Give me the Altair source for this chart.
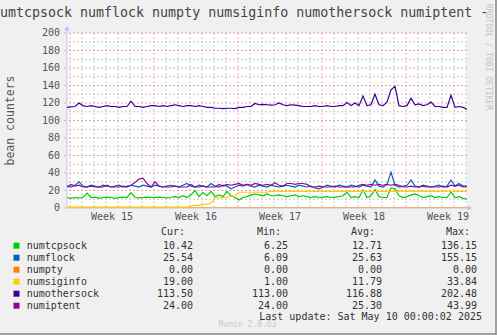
import altair as alt
import pandas as pd

MONO = "DejaVu Sans Mono"

# ---------------- data ----------------
series_names = ["numtcpsock", "numflock", "numpty", "numsiginfo", "numothersock", "numiptent"]
series_colors = ["#00CC00", "#0066B3", "#FF8000", "#FFCC00", "#330099", "#990099"]
cur_vals = ["10.42", "25.54", "0.00", "19.00", "113.50", "24.00"]
min_vals = ["6.25", "6.09", "0.00", "1.00", "113.00", "24.00"]
avg_vals = ["12.71", "25.63", "0.00", "11.79", "116.88", "25.30"]
max_vals = ["136.15", "155.15", "0.00", "33.84", "202.48", "43.99"]

# hours since Mon 7 Apr 2025 00:00 (8-hour samples)
hours = list(range(-6, 795, 8))

numtcpsock = [12, 11, 12, 11.5, 12, 17, 12, 12.5, 11, 12, 12.5, 12, 11, 12, 12.5, 12, 17.5, 12, 11.5, 12,
              12.5, 12, 12, 12.5, 12, 11.5, 12, 13, 12, 14, 12, 15, 20, 13, 18, 14, 19, 13, 15, 13,
              19, 14, 12, 9, 12, 13, 15, 16, 15, 14, 16, 14, 14, 15, 14, 13, 14, 15, 13, 14,
              13, 12, 13, 12, 12.5, 13, 12, 12.5, 13, 14, 18, 12, 13, 12, 20.5, 12, 14, 21, 13, 12,
              12, 23, 22, 14, 12, 13, 15, 16, 14, 12, 13, 14, 12, 13, 12, 12, 18, 12, 13, 11, 10]
numflock = [25, 24, 26, 30, 25, 24, 26, 25, 24, 26, 25, 24, 25, 26, 24, 25, 26, 25, 24, 26,
            25, 24, 26, 25, 24, 25, 26, 25, 24, 26, 28, 25, 24, 26, 25, 24, 28, 25, 24, 26,
            25, 22, 24, 26, 25, 27, 25, 24, 26, 25, 24, 26, 25, 24, 25, 26, 25, 24, 26, 25,
            24, 25, 23, 22, 24, 26, 25, 24, 26, 25, 24, 26, 25, 24, 26, 25, 24, 32, 25, 24,
            27, 41, 26, 24, 25, 26, 32, 25, 24, 26, 25, 24, 25, 26, 24, 25, 32, 25, 28, 25, 25.5]
numpty = [0] * 101
numsiginfo = [1] * 31 + [2.5, 3, 3, 4.5, 4.5, 5.5, 11, 12, 12, 12.5, 13.5, 14] + [18] * 8 + [19] * 50
numothersock = [115, 115.5, 116, 120, 117, 116, 117, 116, 115, 116, 117, 116, 116, 115, 116, 116, 122, 116, 116, 115,
                116, 117, 117, 116, 117, 116, 117, 118, 117, 116, 117, 117, 116, 117, 116, 115, 115, 114, 114, 113.5,
                114, 114, 113.5, 115, 115, 116, 116, 119.5, 118, 118.5, 118, 117.5, 118, 120, 118, 117, 118, 117.5, 117, 116,
                116, 116, 117, 116, 116, 117, 116, 116, 117, 117, 120.5, 117, 120, 117, 128, 117, 118, 130, 118, 117,
                121, 135, 139, 117, 116, 117, 125.5, 118, 119, 117, 118, 121, 116, 116, 115, 115, 129, 115, 116, 115, 113]
numiptent = [24, 27, 25, 26, 24, 24, 25, 24, 24, 24, 26, 24, 24, 24, 25, 24, 26, 29, 33, 34,
             28, 24, 30, 25, 24, 24, 24, 25, 24, 24, 24, 27, 24, 24, 25, 24, 24, 24, 27, 25,
             27, 26, 27, 28, 26, 27, 26, 28, 27, 26, 27, 26, 29, 26, 25, 28, 28, 27, 28, 28,
             27, 24, 24, 25, 24, 24, 24, 25, 24, 24, 24, 24, 24, 26, 27, 26, 27, 26, 27, 26,
             27, 26, 27, 26, 24, 24, 25, 24, 24, 25, 24, 24, 24, 24, 25, 24, 26, 25, 26, 24, 24]

series_values = [numtcpsock, numflock, numpty, numsiginfo, numothersock, numiptent]

y_ticks = [0, 20, 40, 60, 80, 100, 120, 140, 160, 180, 200]
y_major_grid = [20, 40, 60, 80, 100, 120, 140, 160, 180, 200]
y_minor_grid = [10, 30, 50, 70, 90, 110, 130, 150, 170, 190]
week_labels = ["Week 15", "Week 16", "Week 17", "Week 18", "Week 19"]
week_mid_hours = [84, 252, 420, 588, 756]
week_start_hours = [0, 168, 336, 504, 672]
day_hours = [h for h in range(0, 793, 24) if h not in week_start_hours]

title_text = "numtcpsock numflock numpty numsiginfo numothersock numiptent -"
y_title = "bean counters"
last_update = "Last update: Sat May 10 00:00:02 2025"
munin_version = "Munin 2.0.63"
rrd_credit = "RRDTOOL / TOBI OETIKER"

# ---------------- chart ----------------
x_scale = alt.Scale(domain=[-6, 794], nice=False, zero=False)
y_scale = alt.Scale(domain=[0, 200], nice=False)


def X(field="h"):
    return alt.X(field + ":Q", scale=x_scale, axis=None)


def Y(field="v"):
    return alt.Y(field + ":Q", scale=y_scale, axis=None)


minor_v = alt.Chart(pd.DataFrame({"h": day_hours})).mark_rule(
    color="#c8c8c8", strokeDash=[2, 2], strokeWidth=1).encode(x=X())
minor_h = alt.Chart(pd.DataFrame({"v": y_minor_grid})).mark_rule(
    color="#c8c8c8", strokeDash=[2, 2], strokeWidth=1).encode(y=Y())
major_v = alt.Chart(pd.DataFrame({"h": week_start_hours})).mark_rule(
    color="#eea0a0", strokeDash=[2, 2], strokeWidth=1).encode(x=X())
major_h = alt.Chart(pd.DataFrame({"v": y_major_grid})).mark_rule(
    color="#eea0a0", strokeDash=[2, 2], strokeWidth=1).encode(y=Y())

# tick labels, placed through the scales
y_labels = alt.Chart(pd.DataFrame({"v": y_ticks})).mark_text(
    align="right", baseline="middle", font=MONO, fontSize=10, color="#555555").encode(
    y=Y(), x=alt.value(-7), text="v:Q")
y_tickmarks = alt.Chart(pd.DataFrame({"v": y_ticks})).mark_tick(
    color="#aaaaaa", thickness=1, size=2, orient="horizontal").encode(y=Y(), x=alt.value(-2))
x_labels = alt.Chart(pd.DataFrame({"h": week_mid_hours, "t": week_labels})).mark_text(
    align="center", baseline="middle", font=MONO, fontSize=10, color="#555555").encode(
    x=X(), y=alt.value(184), text="t:N")

y_axis_line = alt.Chart().mark_rule(color="#c0c0f0", strokeWidth=1).encode(
    x=alt.value(0), y=alt.value(-4), y2=alt.value(175))
x_axis_line = alt.Chart().mark_rule(color="#c0c0f0", strokeWidth=1).encode(
    x=alt.value(0), x2=alt.value(402), y=alt.value(175))
y_arrow = alt.Chart().mark_point(shape="triangle-up", filled=True, color="#c0c0f0", size=30, opacity=1).encode(
    x=alt.value(0), y=alt.value(-5))
x_arrow = alt.Chart().mark_point(shape="triangle-right", filled=True, color="#c0c0f0", size=30, opacity=1).encode(
    x=alt.value(403), y=alt.value(175))

line_layers = []
for name, color, vals in zip(series_names, series_colors, series_values):
    df = pd.DataFrame({"h": hours, "v": vals})
    line_layers.append(
        alt.Chart(df).mark_line(color=color, strokeWidth=1.2, clip=True).encode(x=X(), y=Y())
    )


def text_layer(txt, x, y, size=10, align="left", color="#333333", angle=0, baseline="middle"):
    return alt.Chart(pd.DataFrame({"t": [txt]})).mark_text(
        align=align, baseline=baseline, font=MONO, fontSize=size, color=color, angle=angle,
        lineBreak="\n", lineHeight=12).encode(text="t:N", x=alt.value(x), y=alt.value(y))


row0 = 212.7  # first legend row (relative to plot top); rows are 12 px apart
texts = [
    text_layer(title_text, -75, -20, size=13.3, color="#444444"),
    text_layer(y_title, -56.5, 87.5, size=11.5, color="#555555", angle=270, align="center"),
    text_layer(rrd_credit, 421, 24, size=8, color="#c4c4c4", angle=90, align="center"),
    text_layer("Cur:", 118, 199, align="right"),
    text_layer("Min:", 214, 199, align="right"),
    text_layer("Avg:", 308, 199, align="right"),
    text_layer("Max:", 403, 199, align="right"),
    text_layer("\n".join(series_names), -40.3, row0),
    text_layer("\n".join(cur_vals), 126, row0, align="right"),
    text_layer("\n".join(min_vals), 221, row0, align="right"),
    text_layer("\n".join(avg_vals), 315, row0, align="right"),
    text_layer("\n".join(max_vals), 410, row0, align="right"),
    text_layer(last_update, 415, 283.7, align="right"),
    text_layer(munin_version, 180.5, 291.5, size=8, color="#c8c8c8", align="center"),
]

swatches = []
for i, color in enumerate(series_colors):
    swatches.append(
        alt.Chart().mark_square(color=color, size=36, opacity=1, filled=True).encode(
            x=alt.value(-50.5), y=alt.value(row0 + 12 * i))
    )

frame_right = alt.Chart().mark_rule(color="#a0a0a0", strokeWidth=2).encode(
    x=alt.value(429), y=alt.value(-33), y2=alt.value(302))
frame_bottom = alt.Chart().mark_rule(color="#a0a0a0", strokeWidth=2).encode(
    x=alt.value(-67), x2=alt.value(430), y=alt.value(301))

chart = alt.layer(
    minor_v, minor_h, major_v, major_h, y_axis_line, x_axis_line, y_arrow, x_arrow,
    y_tickmarks, y_labels, x_labels,
    *line_layers, *texts, *swatches, frame_right, frame_bottom
).properties(
    width=400, height=175,
    padding={"left": 67, "top": 33, "right": 30, "bottom": 127},
    autosize=alt.AutoSizeParams(type="none"),
    background="#f0f0f0",
).configure_view(fill="white", stroke=None)

chart.save("out.html", embed_options={"renderer": "svg", "actions": False})
